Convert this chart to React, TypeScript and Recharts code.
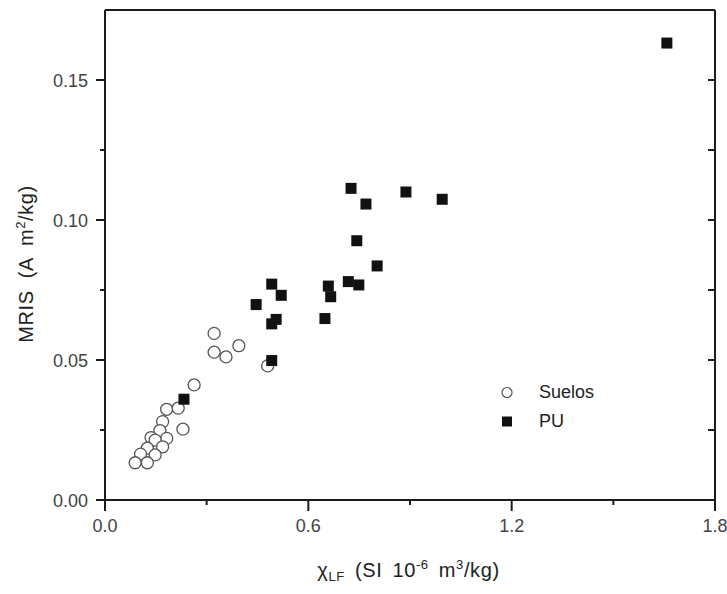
import React from "react";
import {
  ScatterChart,
  Scatter,
  XAxis,
  YAxis,
  Legend,
  Label,
} from "recharts";

// Valores (χLF, MRIS)
const suelosX = [0.322, 0.322, 0.357, 0.395, 0.48, 0.263, 0.182, 0.216, 0.23, 0.17, 0.162, 0.136, 0.182, 0.148, 0.17, 0.125, 0.148, 0.105, 0.089, 0.125];
const suelosY = [0.0595, 0.0528, 0.0511, 0.0551, 0.0479, 0.0411, 0.0324, 0.0328, 0.0253, 0.028, 0.0248, 0.0223, 0.022, 0.0214, 0.019, 0.0185, 0.0161, 0.0164, 0.0133, 0.0133];

const puX = [0.233, 0.492, 0.492, 0.505, 0.446, 0.492, 0.52, 0.649, 0.659, 0.666, 0.718, 0.749, 0.803, 0.743, 0.726, 0.77, 0.888, 0.995, 1.658];
const puY = [0.036, 0.0498, 0.0629, 0.0645, 0.0698, 0.0771, 0.0731, 0.0648, 0.0764, 0.0726, 0.078, 0.0768, 0.0836, 0.0926, 0.1113, 0.1057, 0.11, 0.1074, 0.1632];

const xTicks = [0, 0.3, 0.6, 0.9, 1.2, 1.5, 1.8];
const xMajor = [0, 0.6, 1.2, 1.8];
const yTicks = [0, 0.025, 0.05, 0.075, 0.1, 0.125, 0.15];
const yMajor = [0, 0.05, 0.1, 0.15];

const FONT = "'Liberation Sans', Arial, sans-serif";
const AXIS = "#1c1c1c";
const LABEL = "#444";

const suelos = suelosX.map((x, i) => ({ x, y: suelosY[i] }));
const pu = puX.map((x, i) => ({ x, y: puY[i] }));

const isMajor = (list: number[], v: number) => list.some((m) => Math.abs(m - v) < 1e-9);

function BottomTick({ x, y, payload }: any) {
  const major = isMajor(xMajor, payload.value);
  return (
    <g>
      <line x1={x} x2={x} y1={y} y2={y + (major ? 11 : 5)} stroke={AXIS} strokeWidth={2} />
      {major && (
        <text x={x} y={y + 32} textAnchor="middle" fontSize={18} fontFamily={FONT} fill={LABEL}>
          {payload.value.toFixed(1)}
        </text>
      )}
    </g>
  );
}

function TopTick({ x, y }: any) {
  return <line x1={x} x2={x} y1={y} y2={y + 7} stroke={AXIS} strokeWidth={2} />;
}

function LeftTick({ x, y, payload }: any) {
  const major = isMajor(yMajor, payload.value);
  return (
    <g>
      <line x1={x} x2={x - (major ? 9 : 5)} y1={y} y2={y} stroke={AXIS} strokeWidth={2} />
      {major && (
        <text x={x - 17} y={y + 6.5} textAnchor="end" fontSize={18} fontFamily={FONT} fill={LABEL}>
          {payload.value.toFixed(2)}
        </text>
      )}
    </g>
  );
}

function RightTick({ x, y }: any) {
  return <line x1={x} x2={x - 7} y1={y} y2={y} stroke={AXIS} strokeWidth={2} />;
}

function XTitle({ viewBox }: any) {
  const cx = viewBox.x + viewBox.width / 2 - 1.5;
  const by = viewBox.y + 77;
  return (
    <text
      x={cx}
      y={by}
      textAnchor="middle"
      fontSize={20}
      fontFamily={FONT}
      fill="#222"
      letterSpacing={0.6}
      wordSpacing={4}
    >
      <tspan>χ</tspan>
      <tspan fontSize={13} dy={4}>LF</tspan>
      <tspan dy={-4}> (SI 10</tspan>
      <tspan fontSize={13} dy={-8}>-6</tspan>
      <tspan dy={8}> m</tspan>
      <tspan fontSize={13} dy={-8}>3</tspan>
      <tspan dy={8}>/kg)</tspan>
    </text>
  );
}

function YTitle({ viewBox }: any) {
  const bx = 33;
  const cy = viewBox.y + viewBox.height / 2 + 9;
  return (
    <text
      x={bx}
      y={cy}
      transform={`rotate(-90, ${bx}, ${cy})`}
      textAnchor="middle"
      fontSize={20}
      fontFamily={FONT}
      fill="#222"
      letterSpacing={0.6}
      wordSpacing={6}
    >
      <tspan>MRIS (A m</tspan>
      <tspan fontSize={13} dy={-8}>2</tspan>
      <tspan dy={8}>/kg)</tspan>
    </text>
  );
}

function OpenCircle({ cx, cy }: any) {
  return <circle cx={cx} cy={cy} r={6} fill="#fff" stroke="#555" strokeWidth={1.3} />;
}

function FilledSquare({ cx, cy }: any) {
  return <rect x={cx - 5.5} y={cy - 5.5} width={11} height={11} fill="#111" />;
}

function LegendBox() {
  const rows = [
    { name: "Suelos", marker: <circle cx={12} cy={14.5} r={5} fill="#fff" stroke="#555" strokeWidth={1.2} /> },
    { name: "PU", marker: <rect x={7} y={9.5} width={10} height={10} fill="#111" /> },
  ];
  return (
    <div style={{ fontFamily: FONT, fontSize: 18, color: "#222" }}>
      {rows.map((r) => (
        <div key={r.name} style={{ display: "flex", alignItems: "center", height: 29 }}>
          <svg width={24} height={29}>{r.marker}</svg>
          <span style={{ marginLeft: 20, lineHeight: "29px" }}>{r.name}</span>
        </div>
      ))}
    </div>
  );
}

export default function App() {
  return (
    <div style={{ position: "absolute", left: 0, top: 0, width: 727, height: 594, background: "#fff" }}>
      <ScatterChart width={727} height={594} margin={{ top: 0, right: 0, bottom: 0, left: 0 }}>
        <XAxis
          xAxisId="b"
          type="number"
          dataKey="x"
          domain={[0, 1.8]}
          ticks={xTicks}
          interval={0}
          height={94}
          tickSize={0}
          tickMargin={0}
          tickLine={false}
          tick={BottomTick}
          axisLine={{ stroke: AXIS, strokeWidth: 2 }}
          allowDataOverflow
        >
          <Label content={XTitle} />
        </XAxis>
        <XAxis
          xAxisId="t"
          orientation="top"
          type="number"
          domain={[0, 1.8]}
          ticks={xTicks}
          interval={0}
          height={10}
          tickSize={0}
          tickMargin={0}
          tickLine={false}
          tick={TopTick}
          axisLine={{ stroke: AXIS, strokeWidth: 2 }}
          allowDataOverflow
        />
        <YAxis
          yAxisId="l"
          type="number"
          dataKey="y"
          domain={[0, 0.175]}
          ticks={yTicks}
          interval={0}
          width={105}
          tickSize={0}
          tickMargin={0}
          tickLine={false}
          tick={LeftTick}
          axisLine={{ stroke: AXIS, strokeWidth: 2 }}
          allowDataOverflow
        >
          <Label content={YTitle} />
        </YAxis>
        <YAxis
          yAxisId="r"
          orientation="right"
          type="number"
          domain={[0, 0.175]}
          ticks={yTicks}
          interval={0}
          width={12}
          tickSize={0}
          tickMargin={0}
          tickLine={false}
          tick={RightTick}
          axisLine={{ stroke: AXIS, strokeWidth: 2 }}
          allowDataOverflow
        />
        <Legend
          content={LegendBox}
          layout="vertical"
          verticalAlign="middle"
          align="center"
          wrapperStyle={{ left: 495, top: 378, width: 140 }}
        />
        <Scatter
          name="Suelos"
          data={suelos}
          xAxisId="b"
          yAxisId="l"
          shape={OpenCircle}
          isAnimationActive={false}
        />
        <Scatter
          name="PU"
          data={pu}
          xAxisId="b"
          yAxisId="l"
          shape={FilledSquare}
          isAnimationActive={false}
        />
      </ScatterChart>
    </div>
  );
}
